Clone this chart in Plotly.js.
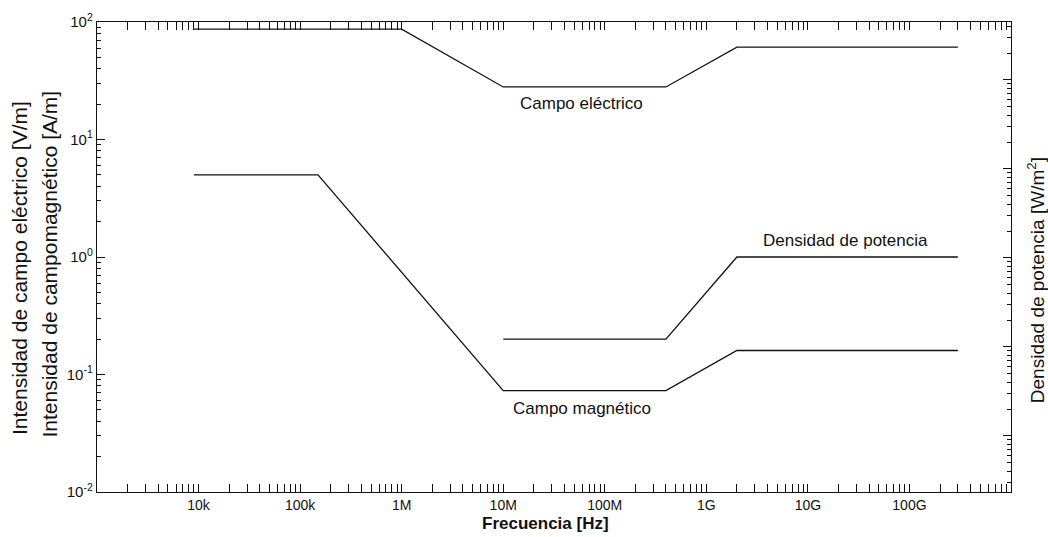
<!DOCTYPE html>
<html>
<head>
<meta charset="utf-8">
<script src="https://cdn.plot.ly/plotly-3.0.1.min.js"></script>
<style>html,body{margin:0;padding:0;background:#fff;}#chart{width:1048px;height:537px;}</style>
</head>
<body>
<div id="chart"></div>
<script>
// Electric field [V/m]
const eFreq = [9e3, 1e6, 1e7, 4e8, 2e9, 3e11];
const eVal  = [87, 87, 28, 28, 61, 61];
// Magnetic field [A/m]
const hFreq = [9e3, 1.5e5, 1e7, 4e8, 2e9, 3e11];
const hVal  = [5, 5, 0.073, 0.073, 0.16, 0.16];
// Power density (as drawn on the left scale)
const sFreq = [1e7, 4e8, 2e9, 3e11];
const sVal  = [0.2, 0.2, 1, 1];

const xTickVals = [1e4, 1e5, 1e6, 1e7, 1e8, 1e9, 1e10, 1e11];
const xTickText = ['10k', '100k', '1M', '10M', '100M', '1G', '10G', '100G'];
const yTickVals = [1e-2, 1e-1, 1, 10, 100];
const yTickText = ['10<sup>-2</sup>', '10<sup>-1</sup>', '10<sup>0</sup>', '10<sup>1</sup>', '10<sup>2</sup>'];

function minorTicks(d0, d1) {
  const out = [];
  for (let d = d0; d < d1; d++) for (let k = 2; k <= 9; k++) out.push(k * Math.pow(10, d));
  return out;
}

const lineStyle = {color: '#111', width: 1.3};
const traces = [
  {x: eFreq, y: eVal, mode: 'lines', line: lineStyle, hoverinfo: 'skip'},
  {x: hFreq, y: hVal, mode: 'lines', line: lineStyle, hoverinfo: 'skip'},
  {x: sFreq, y: sVal, mode: 'lines', line: lineStyle, hoverinfo: 'skip'},
  {x: [1e3], y: [1], yaxis: 'y2', mode: 'markers', marker: {opacity: 0}, hoverinfo: 'skip'}
];

const fam = 'Liberation Sans, Arial, sans-serif';
const f = (size) => ({family: fam, size: size, color: '#111'});
const layout = {
  width: 1048, height: 537,
  margin: {l: 97, r: 37, t: 22, b: 45},
  paper_bgcolor: '#fff', plot_bgcolor: '#fff',
  showlegend: false,
  font: f(14),
  xaxis: {
    type: 'log', range: [3, 12],
    tickvals: xTickVals, ticktext: xTickText,
    ticks: 'inside', ticklen: 8, tickcolor: '#111', tickwidth: 1,
    minor: {tickvals: minorTicks(3, 12), ticks: 'inside', ticklen: 4, tickcolor: '#111', showgrid: false},
    showgrid: false, zeroline: false,
    showline: true, linecolor: '#111', linewidth: 1.2, mirror: 'allticks',
    tickfont: f(14)
  },
  yaxis: {
    type: 'log', range: [-2, 2],
    tickvals: yTickVals, ticktext: yTickText,
    ticks: 'inside', ticklen: 8, tickcolor: '#111', tickwidth: 1,
    minor: {tickvals: minorTicks(-2, 2), ticks: 'inside', ticklen: 4, tickcolor: '#111', showgrid: false},
    showgrid: false, zeroline: false,
    showline: true, linecolor: '#111', linewidth: 1.2, mirror: true,
    tickfont: f(15)
  },
  yaxis2: {
    type: 'log', range: [-1.63, 3.65], overlaying: 'y', side: 'right',
    showticklabels: false,
    tickvals: [0.1, 1, 10, 100, 1000],
    ticks: 'inside', ticklen: 8, tickcolor: '#111',
    minor: {tickvals: minorTicks(-2, 4), ticks: 'inside', ticklen: 4, tickcolor: '#111', showgrid: false},
    showgrid: false, zeroline: false, showline: false
  },
  annotations: [
    {text: 'Campo eléctrico', xref: 'x', yref: 'y', x: 7.774, y: 1.309, showarrow: false, font: f(17)},
    {text: 'Campo magnético', xref: 'x', yref: 'y', x: 7.774, y: -1.293, showarrow: false, font: f(17)},
    {text: 'Densidad de potencia', xref: 'x', yref: 'y', x: 10.372, y: 0.140, showarrow: false, font: f(17)},
    {text: '<b>Frecuencia [Hz]</b>', xref: 'paper', yref: 'paper', x: 0.491, y: -0.068,
     yanchor: 'middle', showarrow: false, font: f(17)},
    {text: 'Intensidad de campo eléctrico [V/m]', xref: 'paper', yref: 'paper', x: -0.084, y: 0.477,
     textangle: -90, showarrow: false, xanchor: 'center', yanchor: 'middle', font: f(21)},
    {text: 'Intensidad de campomagnético [A/m]', xref: 'paper', yref: 'paper', x: -0.052, y: 0.485,
     textangle: -90, showarrow: false, xanchor: 'center', yanchor: 'middle', font: f(21)},
    {text: 'Densidad de potencia [W/m<sup>2</sup>]', xref: 'paper', yref: 'paper', x: 1.0275, y: 0.451,
     textangle: -90, showarrow: false, xanchor: 'center', yanchor: 'middle', font: f(19)}
  ]
};

Plotly.newPlot('chart', traces, layout, {displayModeBar: false, staticPlot: true});
</script>
</body>
</html>
